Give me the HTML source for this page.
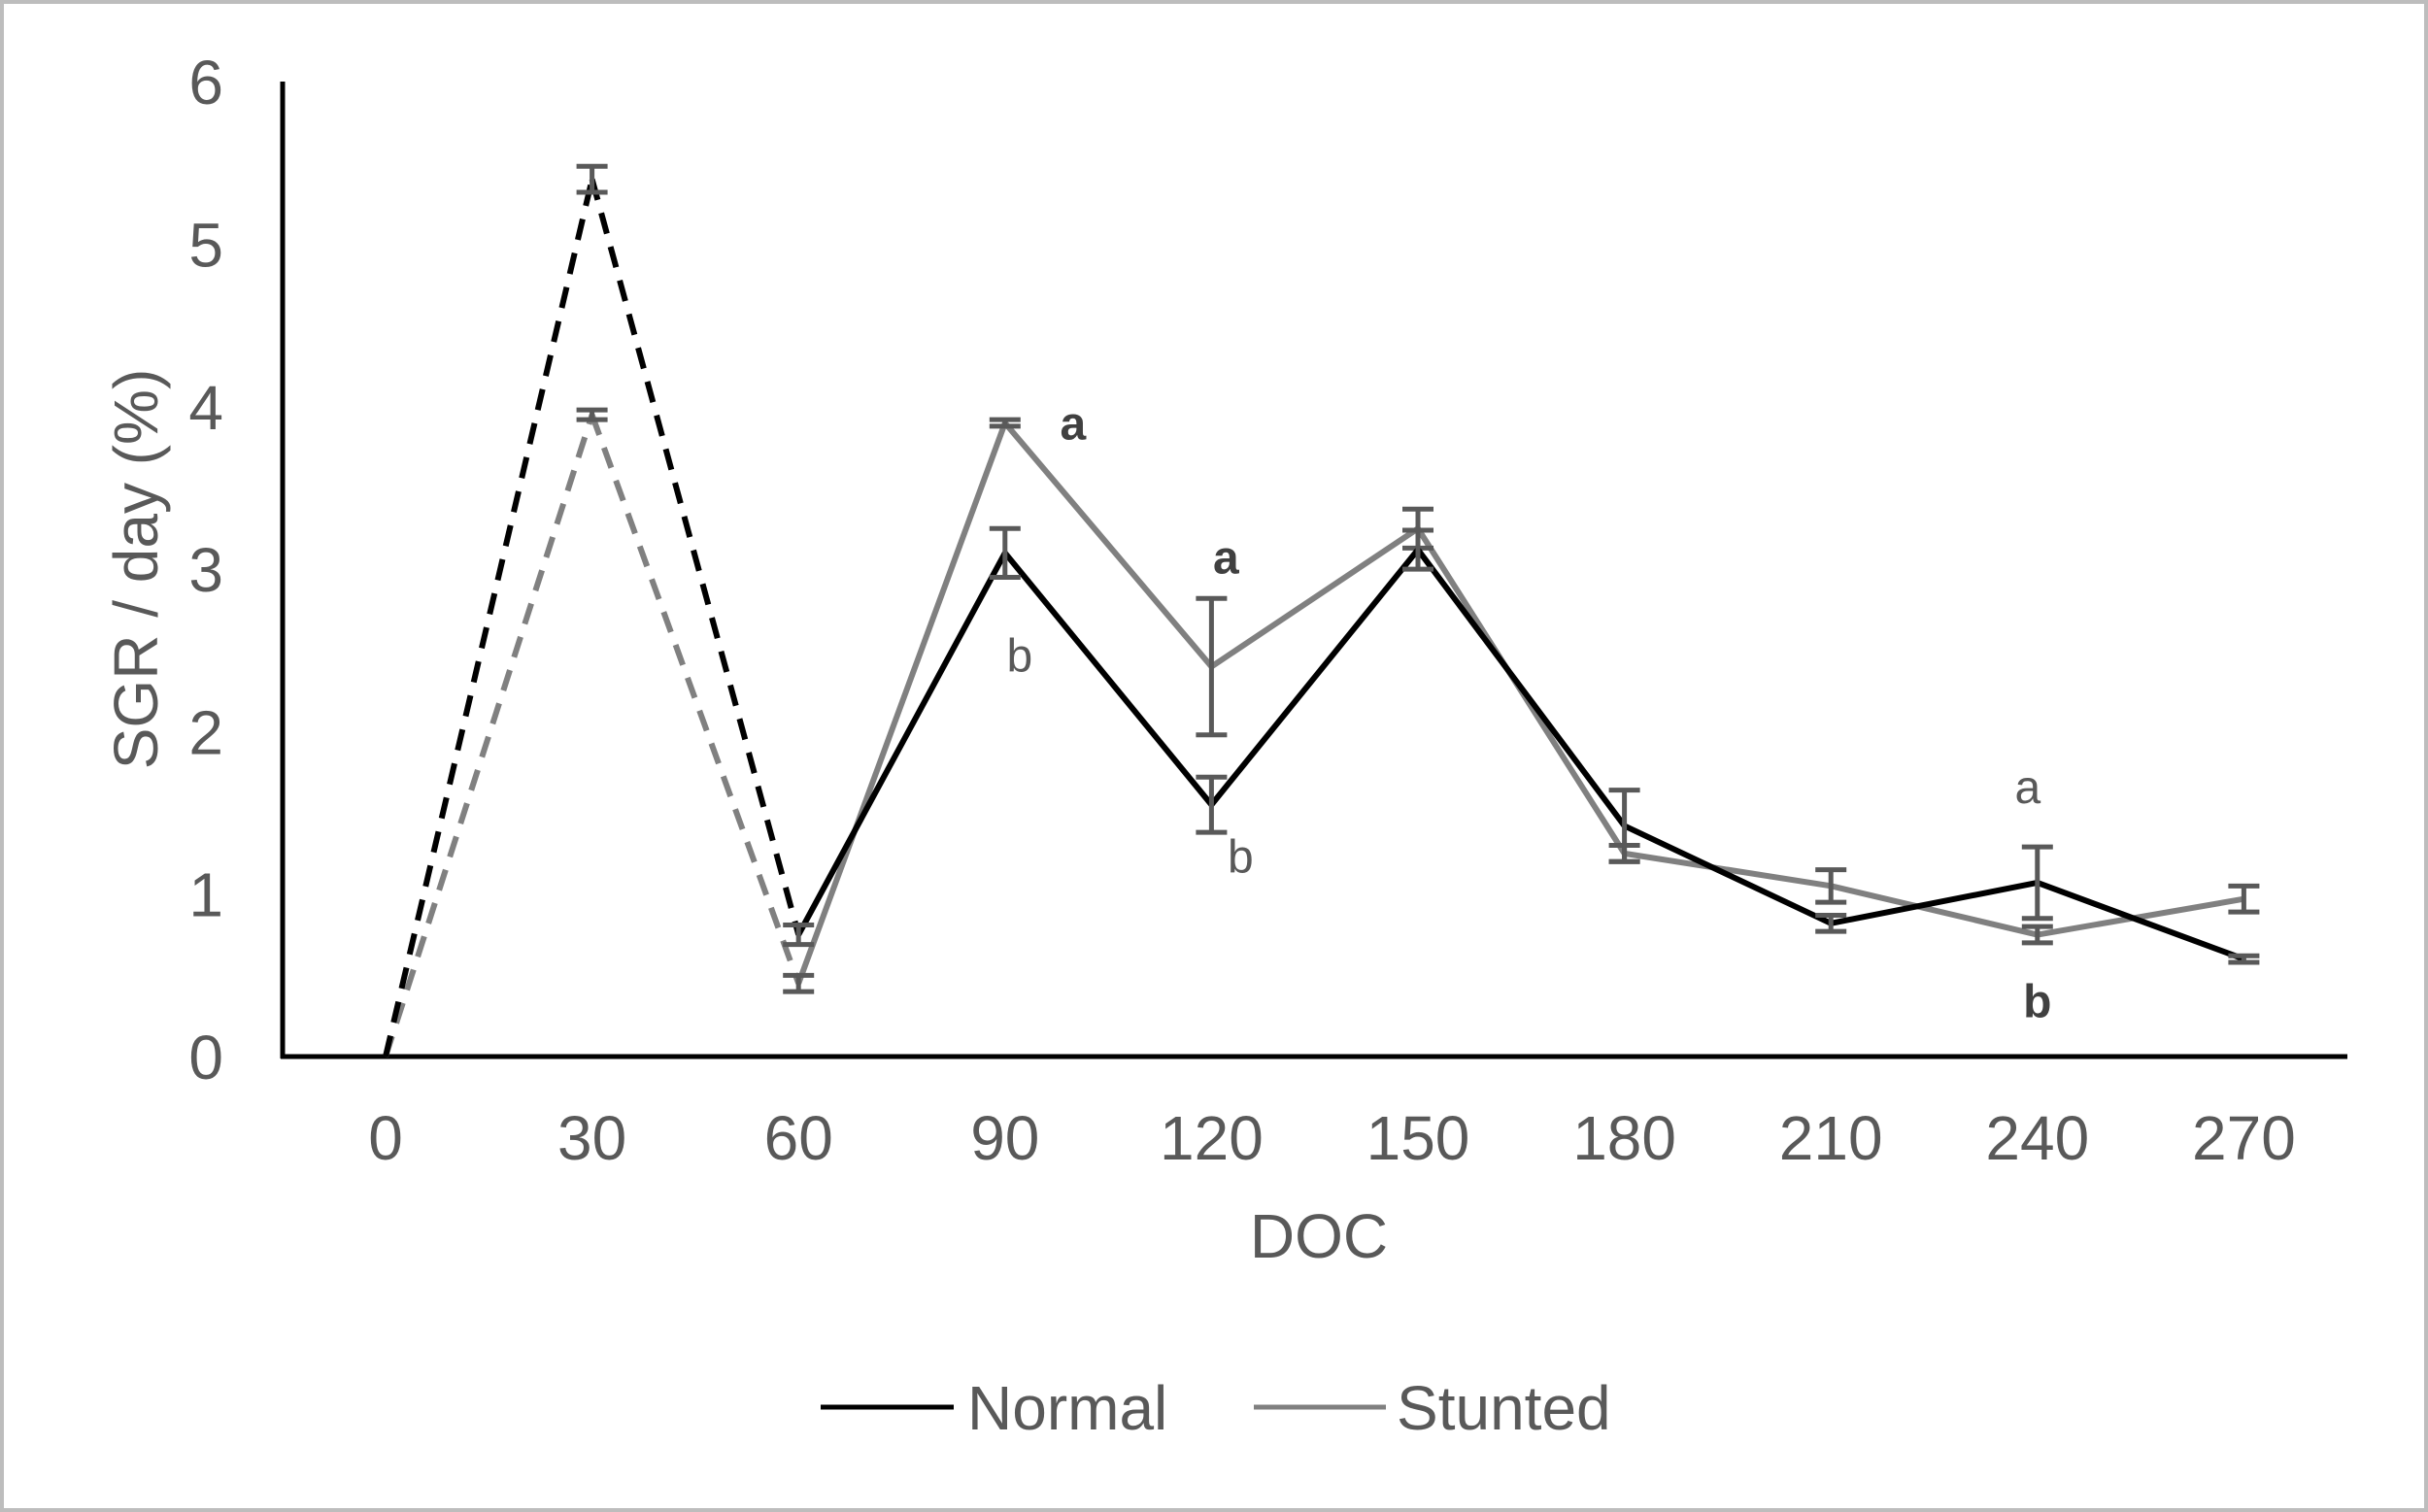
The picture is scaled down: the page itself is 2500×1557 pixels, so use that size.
<!DOCTYPE html>
<html><head><meta charset="utf-8"><style>
html,body{margin:0;padding:0;background:#fff}
svg{display:block}
text{font-family:"Liberation Sans",Arial,sans-serif}
</style></head><body>
<svg id="chart" width="2500" height="1557" viewBox="0 0 2500 1557">
<rect x="2" y="2" width="2496" height="1553" fill="#fff" stroke="#bdbdbd" stroke-width="4"/>
<g id="grid"></g>
<g id="series"></g>
<g id="labels"></g>
</svg>
<script>
const categories=[0,30,60,90,120,150,180,210,240,270];
const normalVals=[0,5.4,0.75,3.1,1.55,3.12,1.42,0.82,1.07,0.6];
const stuntedVals=[0,3.95,0.45,3.9,2.4,3.25,1.25,1.05,0.75,0.97];
const normalErr=[0,0.08,0.06,0.15,0.17,0.12,0.22,0.05,0.22,0.02];
const stuntedErr=[0,0.03,0.05,0.02,0.42,0.12,0.05,0.1,0.05,0.08];
const yTicks=[0,1,2,3,4,5,6];
const sigLetters=[{cat:90,v:3.9,t:"a",bold:true,dx:70,dy:17},{cat:90,v:3.1,t:"b",bold:false,dx:15,dy:122},
{cat:120,v:2.4,t:"a",bold:true,dx:15,dy:-96},{cat:120,v:1.55,t:"b",bold:false,dx:30,dy:70},
{cat:240,v:1.07,t:"a",bold:false,dx:-10,dy:-82},{cat:240,v:0.75,t:"b",bold:true,dx:0,dy:85}];
const NS="http://www.w3.org/2000/svg";
const X0=397,DX=212.6,Y0=1088,DY=167.3;
const xs=c=>X0+(c/30)*DX, ys=v=>Y0-v*DY;
function mk(p,tag,a){const e=document.createElementNS(NS,tag);for(const k in a)e.setAttribute(k,a[k]);p.appendChild(e);return e;}
const svg=document.getElementById('chart');
const g=document.getElementById('grid'),s=document.getElementById('series'),l=document.getElementById('labels');
let e=mk(g,'line',{x1:291,y1:84,x2:291,y2:1090,stroke:'#000','stroke-width':5});


e=mk(g,'line',{x1:289,y1:Y0,x2:2417,y2:Y0,stroke:'#000','stroke-width':5});


yTicks.forEach(v=>{const t=mk(g,'text',{x:230,y:ys(v)+23,'text-anchor':'end','font-size':64,fill:'#595959'});t.textContent=v;

});
categories.forEach(c=>{const t=mk(g,'text',{x:xs(c),y:1194,'text-anchor':'middle','font-size':64,fill:'#595959'});t.textContent=c;

});
e=mk(g,'text',{x:1358,y:1295,'text-anchor':'middle','font-size':64,fill:'#595959'});e.textContent='DOC';


e=mk(g,'text',{x:0,y:0,'text-anchor':'middle','font-size':64,fill:'#595959',transform:'translate(162,586) rotate(-90)'});e.textContent='SGR / day  (%)';


function series(vals,errs,col,name){
  for(let i=0;i<vals.length-1;i++){
    const a={x1:xs(categories[i]),y1:ys(vals[i]),x2:xs(categories[i+1]),y2:ys(vals[i+1]),stroke:col,'stroke-width':6};
    if(i<2)a['stroke-dasharray']='22 14';
    const ln=mk(s,'line',a);
    
    
  }
  for(let i=1;i<vals.length;i++){
    const x=xs(categories[i]),t=ys(vals[i]+errs[i]),b=ys(vals[i]-errs[i]);
    const eb=mk(s,'path',{d:`M${x} ${t}V${b}M${x-16} ${t}H${x+16}M${x-16} ${b}H${x+16}`,stroke:'#595959','stroke-width':5,fill:'none'});
    
    
  }
}
series(stuntedVals,stuntedErr,'#808080','stunted');
series(normalVals,normalErr,'#000','normal');
sigLetters.forEach(o=>{const t=mk(l,'text',{x:xs(o.cat)+o.dx,y:ys(o.v)+o.dy,'text-anchor':'middle','font-size':48,'font-weight':o.bold?'bold':'normal',fill:o.bold?'#404040':'#595959'});t.textContent=o.t;

});
e=mk(l,'line',{x1:845,y1:1449,x2:982,y2:1449,stroke:'#000','stroke-width':5});


e=mk(l,'text',{x:996,y:1472,'font-size':64,fill:'#595959'});e.textContent='Normal';


e=mk(l,'line',{x1:1291,y1:1449,x2:1427,y2:1449,stroke:'#808080','stroke-width':5});


e=mk(l,'text',{x:1438,y:1472,'font-size':64,fill:'#595959'});e.textContent='Stunted';


</script>
</body></html>
